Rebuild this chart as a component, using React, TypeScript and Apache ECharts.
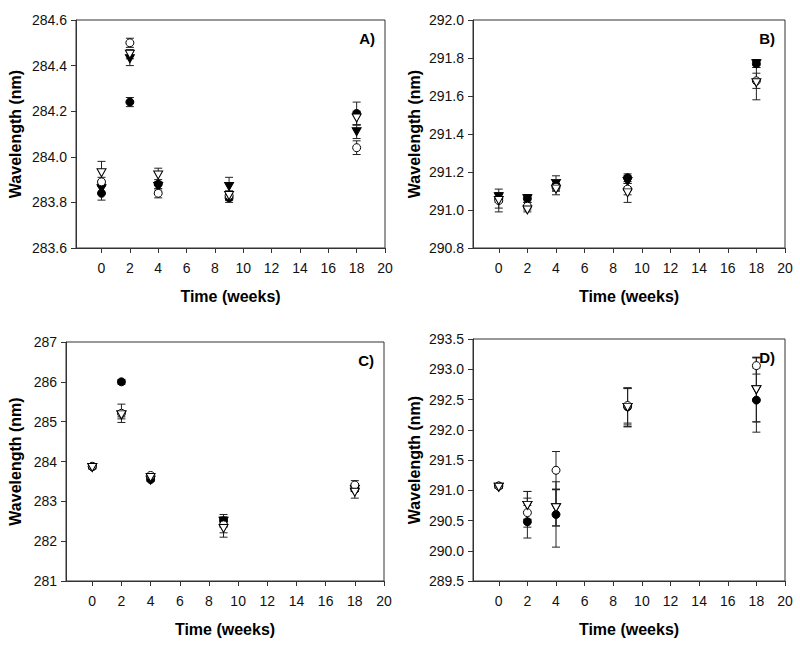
import React, { useEffect, useRef } from "react";
import * as echarts from "echarts";

// Time points (weeks)
const weeks = [0, 2, 4, 9, 18];
const xTicks = [0, 2, 4, 6, 8, 10, 12, 14, 16, 18, 20];

// Panel A
const aFilledCircle = [283.84, 284.24, 283.88, 283.82, 284.19];
const aFilledCircleErr = [0.03, 0.02, 0.02, 0.02, 0.05];
const aFilledTriangle = [283.86, 284.43, 283.87, 283.87, 284.11];
const aFilledTriangleErr = [0.02, 0.03, 0.02, 0.04, 0.03];
const aOpenCircle = [283.89, 284.5, 283.84, 283.83, 284.04];
const aOpenCircleErr = [0.02, 0.02, 0.02, 0.02, 0.03];
const aOpenTriangle = [283.93, 284.45, 283.92, 283.83, 284.17];
const aOpenTriangleErr = [0.05, 0.02, 0.03, 0.02, 0.03];

// Panel B
const bFilledCircle = [291.06, 291.06, 291.13, 291.17, 291.77];
const bFilledCircleErr = [0.02, 0.02, 0.02, 0.02, 0.02];
const bFilledTriangle = [291.07, 291.06, 291.14, 291.15, 291.77];
const bFilledTriangleErr = [0.02, 0.02, 0.04, 0.03, 0.02];
const bOpenCircle = [291.05, 291.02, 291.12, 291.11, 291.68];
const bOpenCircleErr = [0.06, 0.02, 0.02, 0.03, 0.04];
const bOpenTriangle = [291.05, 291.0, 291.11, 291.09, 291.67];
const bOpenTriangleErr = [0.04, 0.01, 0.03, 0.05, 0.09];

// Panel C
const cFilledCircle = [283.87, 286.0, 283.55, 282.51, 283.3];
const cFilledCircleErr = [0.03, 0.06, 0.03, 0.16, 0.05];
const cFilledTriangle = [283.85, 285.17, 283.53, 282.5, 283.3];
const cFilledTriangleErr = [0.03, 0.05, 0.03, 0.08, 0.05];
const cOpenCircle = [283.88, 285.21, 283.65, 282.41, 283.41];
const cOpenCircleErr = [0.04, 0.23, 0.03, 0.2, 0.11];
const cOpenTriangle = [283.85, 285.17, 283.6, 282.32, 283.23];
const cOpenTriangleErr = [0.04, 0.1, 0.04, 0.22, 0.15];

// Panel D
const dFilledCircle = [291.07, 290.48, 290.6, 292.38, 292.49];
const dFilledCircleErr = [0.02, 0.27, 0.54, 0.3, 0.53];
const dFilledTriangle = [291.05, 290.75, 290.71, 292.37, 292.66];
const dFilledTriangleErr = [0.02, 0.23, 0.3, 0.32, 0.53];
const dOpenCircle = [291.07, 290.63, 291.33, 292.4, 293.06];
const dOpenCircleErr = [0.02, 0.24, 0.31, 0.29, 0.14];
const dOpenTriangle = [291.05, 290.75, 290.71, 292.37, 292.66];
const dOpenTriangleErr = [0.02, 0.23, 0.3, 0.32, 0.53];

const FONT = "'Liberation Sans', Arial, sans-serif";
const AX = "#333";

type Panel = {
  label: string;
  yMin: number;
  yMax: number;
  yInterval: number;
  yDecimals: number;
  grid: { left: number; top: number; width: number; height: number };
  nameGap: number;
  series: { values: number[]; errs: number[]; kind: string }[];
};

const panels: Panel[] = [
  {
    label: "A)",
    yMin: 283.6,
    yMax: 284.6,
    yInterval: 0.2,
    yDecimals: 1,
    grid: { left: 76, top: 20, width: 309, height: 228 },
    nameGap: 53,
    series: [
      { values: aFilledCircle, errs: aFilledCircleErr, kind: "fc" },
      { values: aFilledTriangle, errs: aFilledTriangleErr, kind: "ft" },
      { values: aOpenCircle, errs: aOpenCircleErr, kind: "oc" },
      { values: aOpenTriangle, errs: aOpenTriangleErr, kind: "ot" },
    ],
  },
  {
    label: "B)",
    yMin: 290.8,
    yMax: 292.0,
    yInterval: 0.2,
    yDecimals: 1,
    grid: { left: 473, top: 20, width: 312, height: 228 },
    nameGap: 51,
    series: [
      { values: bFilledCircle, errs: bFilledCircleErr, kind: "fc" },
      { values: bFilledTriangle, errs: bFilledTriangleErr, kind: "ft" },
      { values: bOpenCircle, errs: bOpenCircleErr, kind: "oc" },
      { values: bOpenTriangle, errs: bOpenTriangleErr, kind: "ot" },
    ],
  },
  {
    label: "C)",
    yMin: 281,
    yMax: 287,
    yInterval: 1,
    yDecimals: 0,
    grid: { left: 66, top: 342, width: 318, height: 239 },
    nameGap: 43,
    series: [
      { values: cFilledCircle, errs: cFilledCircleErr, kind: "fc" },
      { values: cFilledTriangle, errs: cFilledTriangleErr, kind: "ft" },
      { values: cOpenCircle, errs: cOpenCircleErr, kind: "oc" },
      { values: cOpenTriangle, errs: cOpenTriangleErr, kind: "ot" },
    ],
  },
  {
    label: "D)",
    yMin: 289.5,
    yMax: 293.5,
    yInterval: 0.5,
    yDecimals: 1,
    grid: { left: 473, top: 339, width: 312, height: 242 },
    nameGap: 51,
    series: [
      { values: dFilledCircle, errs: dFilledCircleErr, kind: "fc" },
      { values: dFilledTriangle, errs: dFilledTriangleErr, kind: "ft" },
      { values: dOpenCircle, errs: dOpenCircleErr, kind: "oc" },
      { values: dOpenTriangle, errs: dOpenTriangleErr, kind: "ot" },
    ],
  },
];

function errorRender(params: any, api: any) {
  const x = api.value(0);
  const lo = api.value(1);
  const hi = api.value(2);
  const pHi = api.coord([x, hi]);
  const pLo = api.coord([x, lo]);
  const w = 4;
  const style = { stroke: "#222", lineWidth: 1 };
  return {
    type: "group",
    children: [
      { type: "line", shape: { x1: pHi[0], y1: pHi[1], x2: pLo[0], y2: pLo[1] }, style },
      { type: "line", shape: { x1: pHi[0] - w, y1: pHi[1], x2: pHi[0] + w, y2: pHi[1] }, style },
      { type: "line", shape: { x1: pLo[0] - w, y1: pLo[1], x2: pLo[0] + w, y2: pLo[1] }, style },
    ],
  };
}

function buildOption() {
  const grid: any[] = [];
  const xAxis: any[] = [];
  const yAxis: any[] = [];
  const series: any[] = [];
  const graphic: any[] = [];

  panels.forEach((p, i) => {
    grid.push({
      ...p.grid,
      show: true,
      borderColor: AX,
      borderWidth: 1,
      backgroundColor: "transparent",
      containLabel: false,
    });
    xAxis.push({
      type: "value",
      gridIndex: i,
      min: -1.8,
      max: 20,
      name: "Time (weeks)",
      nameLocation: "middle",
      nameGap: 40,
      nameTextStyle: { fontFamily: FONT, fontSize: 16, fontWeight: "bold", color: "#000" },
      axisLine: { show: true, onZero: false, lineStyle: { color: AX, width: 1 } },
      axisTick: { show: true, inside: false, length: 5, customValues: xTicks, lineStyle: { color: AX } },
      axisLabel: {
        customValues: xTicks,
        margin: 13,
        fontFamily: FONT,
        fontSize: 14,
        color: "#111",
        formatter: (v: number) => String(v),
      },
      splitLine: { show: false },
    });
    yAxis.push({
      type: "value",
      gridIndex: i,
      min: p.yMin,
      max: p.yMax,
      interval: p.yInterval,
      name: "Wavelength (nm)",
      nameLocation: "middle",
      nameGap: p.nameGap,
      nameRotate: 90,
      nameTextStyle: { fontFamily: FONT, fontSize: 16, fontWeight: "bold", color: "#000" },
      axisLine: { show: true, onZero: false, lineStyle: { color: AX, width: 1 } },
      axisTick: { show: true, inside: false, length: 5, lineStyle: { color: AX } },
      axisLabel: {
        margin: 9,
        fontFamily: FONT,
        fontSize: 14,
        color: "#111",
        showMinLabel: true,
        showMaxLabel: true,
        formatter: (v: number) => v.toFixed(p.yDecimals),
      },
      splitLine: { show: false },
    });

    // error bars
    p.series.forEach((s) => {
      series.push({
        type: "custom",
        xAxisIndex: i,
        yAxisIndex: i,
        renderItem: errorRender,
        encode: { x: 0, y: [1, 2] },
        z: 1,
        silent: true,
        data: weeks.map((w, k) => [w, s.values[k] - s.errs[k], s.values[k] + s.errs[k]]),
      });
    });
    // markers
    p.series.forEach((s) => {
      const isTri = s.kind === "ft" || s.kind === "ot";
      const filled = s.kind === "fc" || s.kind === "ft";
      series.push({
        type: "scatter",
        xAxisIndex: i,
        yAxisIndex: i,
        symbol: isTri ? "triangle" : "circle",
        symbolRotate: isTri ? 180 : 0,
        symbolSize: isTri ? [9, 8] : 8,
        z: 3,
        silent: true,
        itemStyle: {
          color: filled ? "#000" : "#fff",
          borderColor: "#000",
          borderWidth: 1,
          opacity: 1,
        },
        data: weeks.map((w, k) => [w, s.values[k]]),
      });
    });

    graphic.push({
      type: "text",
      right: 800 - (p.grid.left + p.grid.width) + 10,
      top: p.grid.top + 11,
      style: {
        text: p.label,
        font: `bold 15px ${FONT}`,
        fill: "#000",
      },
    });
  });

  return {
    animation: false,
    backgroundColor: "#fff",
    grid,
    xAxis,
    yAxis,
    series,
    graphic,
  };
}

export default function App() {
  const ref = useRef<HTMLDivElement>(null);
  useEffect(() => {
    if (!ref.current) return;
    const chart = echarts.init(ref.current, null, { renderer: "svg" });
    chart.setOption(buildOption() as any);
    return () => chart.dispose();
  }, []);
  return (
    <div
      ref={ref}
      style={{ position: "absolute", left: 0, top: 0, width: 800, height: 645, background: "#fff" }}
    />
  );
}
